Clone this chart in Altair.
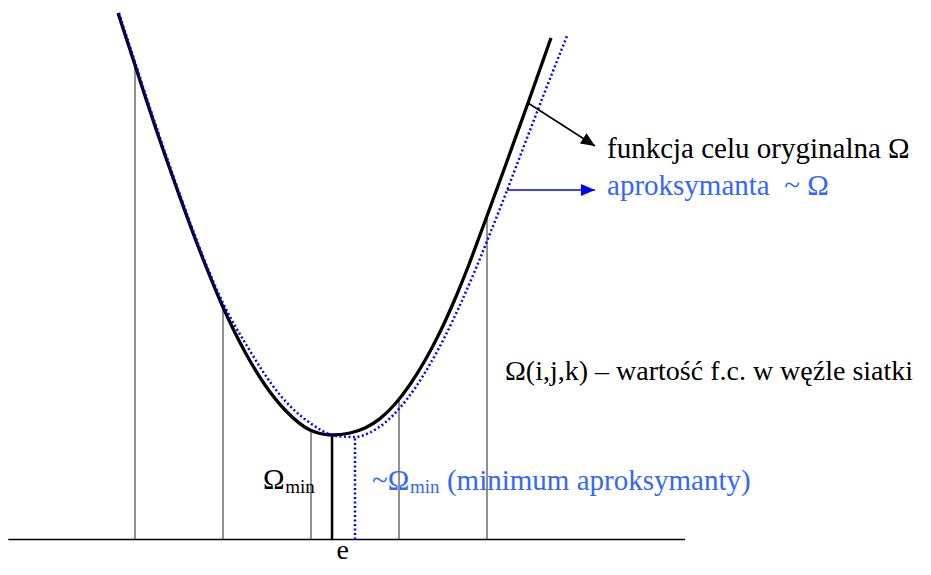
import altair as alt
import pandas as pd

# ---- data (e = position on axis, value = objective) ----
# original objective function (black solid curve)
orig_e = [-2.193, -2.0, -1.886, -1.773, -1.648, -1.511, -1.375, -1.227, -1.011,
          -0.75, -0.523, -0.295, -0.011, 0.239, 0.443, 0.614, 0.784, 0.955,
          1.125, 1.295, 1.466, 1.636, 1.784, 1.920, 2.0, 2.216, 2.466, 2.727]
orig_val = [5.265, 4.745, 4.435, 4.135, 3.815, 3.475, 3.145, 2.805, 2.345,
            1.875, 1.545, 1.295, 1.095, 1.045, 1.065, 1.115, 1.209, 1.355,
            1.55, 1.79, 2.075, 2.405, 2.725, 3.045, 3.235, 3.755, 4.365, 5.015]

# approximant (blue dotted curve)
approx_e = [-2.182, -1.989, -1.875, -1.761, -1.636, -1.5, -1.364, -1.216, -1.0,
            -0.727, -0.352, -0.011, 0.295, 0.5, 0.670, 0.841, 1.011, 1.182,
            1.352, 1.523, 1.693, 1.864, 2.034, 2.205, 2.364, 2.636, 2.909]
approx_val = [5.265, 4.745, 4.435, 4.135, 3.815, 3.475, 3.145, 2.805, 2.365,
              1.935, 1.445, 1.165, 1.035, 1.025, 1.07, 1.168, 1.318, 1.513,
              1.753, 2.03, 2.345, 2.69, 3.058, 3.44, 3.805, 4.429, 5.035]

# grid nodes Ω(i,j,k)
node_e = [-2, -1, 0, 1, 2]
node_val = [4.745, 2.325, 1.09, 1.40, 3.235]

# minima
omin_e, omin_val = 0.239, 1.045
amin_e, amin_val = 0.50, 1.03

# axis line extent
axis_e = [-3.44, 4.25]

BLACK = "#000000"
BLUE = "#0000FF"
TBLUE = "#3366FF"
FONT = "'Liberation Serif', 'Times New Roman', 'DejaVu Serif', serif"

xs = alt.Scale(domain=[-3.4432, 6.9545], nice=False, zero=False)
ys = alt.Scale(domain=[-0.275, 5.315], nice=False, zero=False)


def X(f):
    return alt.X(f, type="quantitative", scale=xs, axis=None)


def Y(f):
    return alt.Y(f, type="quantitative", scale=ys, axis=None)


orig_df = pd.DataFrame({"e": orig_e, "v": orig_val, "i": range(len(orig_e))})
approx_df = pd.DataFrame({"e": approx_e, "v": approx_val, "i": range(len(approx_e))})
node_df = pd.DataFrame({"e": node_e, "v": node_val, "z": 0.0})
omin_df = pd.DataFrame({"e": [omin_e], "v": [omin_val], "z": [0.0]})
amin_df = pd.DataFrame({"e": [amin_e], "v": [amin_val], "z": [0.0]})
axis_df = pd.DataFrame({"e": [axis_e[0]], "e2": [axis_e[1]], "v": [0.0]})

base_line = alt.Chart(axis_df).mark_rule(color=BLACK, strokeWidth=1.5).encode(
    x=X("e"), x2="e2", y=Y("v"))

node_rules = alt.Chart(node_df).mark_rule(color="#222222", strokeWidth=1).encode(
    x=X("e"), y=Y("z"), y2="v")

omin_rule = alt.Chart(omin_df).mark_rule(color=BLACK, strokeWidth=2.5).encode(
    x=X("e"), y=Y("z"), y2="v")

amin_rule = alt.Chart(amin_df).mark_rule(color=BLUE, strokeWidth=2.5,
                                         strokeDash=[2, 2.5]).encode(
    x=X("e"), y=Y("z"), y2="v")

orig_line = alt.Chart(orig_df).mark_line(color=BLACK, strokeWidth=3.3,
                                         interpolate="monotone").encode(
    x=X("e"), y=Y("v"), order="i:Q")

approx_line = alt.Chart(approx_df).mark_line(color=BLUE, strokeWidth=2.5,
                                             strokeDash=[2, 2.5],
                                             interpolate="monotone").encode(
    x=X("e"), y=Y("v"), order="i:Q")

# arrows (annotation)
arrow_df = pd.DataFrame({
    "id": ["orig", "orig", "approx", "approx"],
    "e": [2.466, 3.227, 2.227, 3.227],
    "v": [4.365, 3.935, 3.495, 3.495],
    "col": [BLACK, BLACK, BLUE, BLUE],
    "k": [0, 1, 0, 1],
})
arrow_lines = alt.Chart(arrow_df).mark_line(strokeWidth=1.5).encode(
    x=X("e"), y=Y("v"), detail="id:N", order="k:Q",
    color=alt.Color("col:N", scale=None))

head_shape = "M0,0L-1,-0.43L-1,0.43Z"
head_orig = alt.Chart(arrow_df[(arrow_df.id == "orig") & (arrow_df.k == 1)]).mark_point(
    shape=head_shape, filled=True, size=784, angle=33, opacity=1, color=BLACK,
    strokeWidth=0).encode(x=X("e"), y=Y("v"))
head_approx = alt.Chart(arrow_df[(arrow_df.id == "approx") & (arrow_df.k == 1)]).mark_point(
    shape=head_shape, filled=True, size=784, angle=0, opacity=1, color=BLUE,
    strokeWidth=0).encode(x=X("e"), y=Y("v"))

# texts
label_df = pd.DataFrame({
    "label": ["funkcja celu oryginalna Ω",
              "aproksymanta\u00a0 ~ Ω",
              "Ω(i,j,k) – wartość f.c. w węźle siatki",
              "Ω", "min",
              "~Ω", "min", "(minimum aproksymanty)"],
    "e": [3.364, 3.364, 2.205, -0.545, -0.292, 0.693, 1.125, 1.545],
    "v": [3.815, 3.445, 1.595, 0.505, 0.465, 0.495, 0.465, 0.495],
    "col": [BLACK, TBLUE, BLACK, BLACK, BLACK, TBLUE, TBLUE, TBLUE],
    "fs": [29, 29, 28, 29, 19, 29, 19, 29],
})
labels = alt.Chart(label_df).mark_text(align="left", baseline="alphabetic",
                                       font=FONT).encode(
    x=X("e"), y=Y("v"), text="label:N",
    color=alt.Color("col:N", scale=None),
    size=alt.Size("fs:Q", scale=None))

e_df = pd.DataFrame({"label": ["e"], "e": [0.36], "v": [-0.19]})
e_label = alt.Chart(e_df).mark_text(align="center", baseline="alphabetic",
                                    font=FONT, fontSize=28, color=BLACK).encode(
    x=X("e"), y=Y("v"), text="label:N")

chart = alt.layer(
    base_line, node_rules, omin_rule, amin_rule, orig_line, approx_line,
    arrow_lines, head_orig, head_approx, labels, e_label
).properties(
    width=915, height=559,
    autosize=alt.AutoSizeParams(type="none"),
    padding=0,
    background="white",
).configure_view(stroke=None)

chart.save("out.html", embed_options={"renderer": "svg", "actions": False})
